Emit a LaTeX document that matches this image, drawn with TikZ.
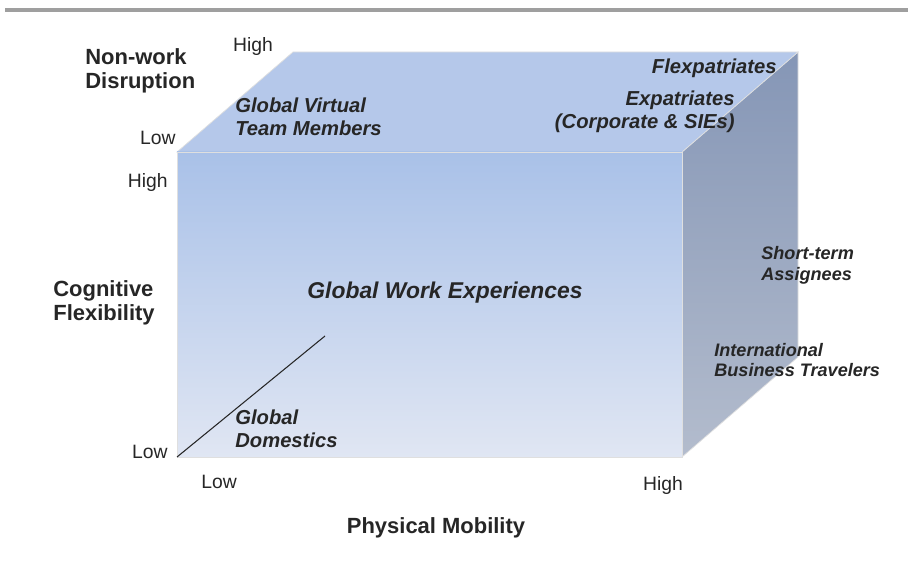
\documentclass[tikz,border=0pt]{standalone}
\usepackage{fontspec}
\setmainfont{Liberation Sans}
\usepackage{tikz}
\usetikzlibrary{
    positioning,
    calc
}
\definecolor{frontTop}{HTML}{A9C1E8}
\definecolor{frontBottom}{HTML}{E0E6F3}
\definecolor{topFace}{HTML}{B5C8EA}
\definecolor{sideTop}{HTML}{8596B6}
\definecolor{sideBottom}{HTML}{B3BCCD}
\definecolor{textdark}{HTML}{262626}
\tikzstyle{axislabel} = [
    font=\fontsize{12.5}{14}\selectfont\bfseries,
    text=textdark,
    align=left,
    inner sep=0pt
]
\tikzstyle{scalelabel} = [
    font=\fontsize{11}{13}\selectfont,
    text=textdark,
    inner sep=0pt
]
\tikzstyle{grouplabel} = [
    font=\fontsize{11.5}{12.8}\selectfont\bfseries\itshape,
    text=textdark,
    align=left,
    inner sep=0pt
]
\tikzstyle{sidelabel} = [
    grouplabel,
    font=\fontsize{10.3}{11.8}\selectfont\bfseries\itshape
]
\tikzstyle{edge} = [
    draw=gray!25,
    thin
]

\begin{document}
\begin{tikzpicture}
        \useasboundingbox (0,0) rectangle (18.16,11.2);

        % Rule along the top
        \draw[line width=2.2pt, gray!75] (0.1,11.0) -- (18.16,11.0);

        % Cube corners (front face, then depth offset)
        \coordinate (fbl) at (3.54,2.06);
        \coordinate (fbr) at (13.64,2.06);
        \coordinate (ftr) at (13.64,8.16);
        \coordinate (ftl) at (3.54,8.16);
        \coordinate (btl) at ($(ftl)+(2.32,2.0)$);
        \coordinate (btr) at ($(ftr)+(2.32,2.0)$);
        \coordinate (bbr) at ($(fbr)+(2.32,2.0)$);

        % Side face
        \shade[top color=sideTop, bottom color=sideBottom] (fbr) -- (ftr) -- (btr) -- (bbr) -- cycle;
        \draw[edge] (fbr) -- (ftr) -- (btr) -- (bbr) -- cycle;

        % Top face
        \fill[topFace] (ftl) -- (ftr) -- (btr) -- (btl) -- cycle;
        \draw[edge] (ftl) -- (ftr) -- (btr) -- (btl) -- cycle;

        % Front face
        \shade[top color=frontTop, bottom color=frontBottom] (fbl) rectangle (ftr);
        \draw[edge] (fbl) rectangle (ftr);

        % Depth axis from the origin
        \coordinate (diagEnd) at (6.5,4.48);
        \draw[gray!30!black, semithick] (fbl) -- (diagEnd);

        % Axis titles
        \node[axislabel, anchor=west] (nonwork) at (1.7,9.78) {Non-work\\Disruption};
        \node[axislabel, anchor=west] (cognitive) at (1.06,5.14) {Cognitive\\Flexibility};
        \node[axislabel] (mobility) at (8.72,0.64) {Physical Mobility};

        % Low / High markers
        \node[scalelabel] (nwHigh) at (5.06,10.26) {High};
        \node[scalelabel, anchor=east] (nwLow) at (3.52,8.44) {Low};
        \node[scalelabel, anchor=east] (cfHigh) at (3.36,7.54) {High};
        \node[scalelabel, anchor=east] (cfLow) at (3.36,2.16) {Low};
        \node[scalelabel] (pmLow) at (4.38,1.56) {Low};
        \node[scalelabel] (pmHigh) at (13.26,1.48) {High};

        % Groups placed in the cube
        \node[grouplabel, anchor=west] (virtual) at (4.7,8.86) {Global Virtual\\Team Members};
        \node[grouplabel, anchor=east] (flex) at (15.54,9.84) {Flexpatriates};
        \node[grouplabel, align=right, anchor=east] (expat) at (14.7,8.96) {Expatriates\\(Corporate \& SIEs)};
        \node[grouplabel, font=\fontsize{13}{15}\selectfont\bfseries\itshape] (gwe) at (8.9,5.34) {Global Work Experiences};
        \node[sidelabel, anchor=west] (shortterm) at (15.22,5.9) {Short-term\\Assignees};
        \node[sidelabel, anchor=west] (ibt) at (14.28,4.0) {International\\Business Travelers};
        \node[grouplabel, anchor=west] (domestics) at (4.7,2.62) {Global\\Domestics};
    \end{tikzpicture}
\end{document}
